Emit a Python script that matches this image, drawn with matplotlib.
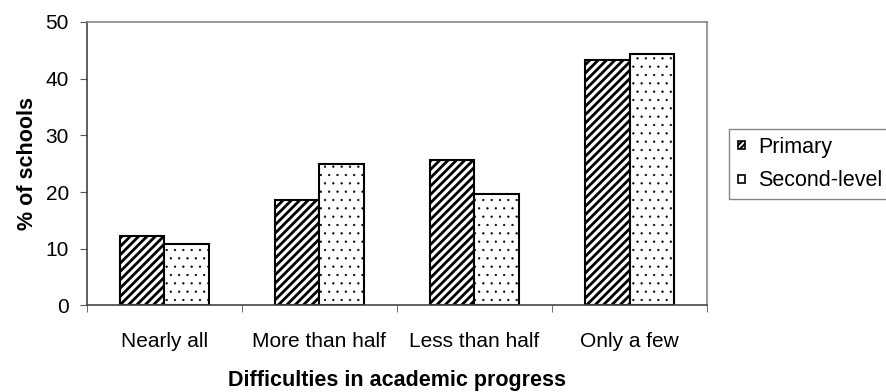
import matplotlib.pyplot as plt
import matplotlib.patches as mpatches
from matplotlib.legend_handler import HandlerPatch
import numpy as np

# categories and values
categories = ['Nearly all', 'More than half', 'Less than half', 'Only a few']
primary = [12.3, 18.6, 25.7, 43.3]
second_level = [10.9, 25.0, 19.7, 44.4]
series_names = ['Primary', 'Second-level']
y_ticks = [0, 10, 20, 30, 40, 50]

plt.rcParams['font.family'] = ['Liberation Sans', 'DejaVu Sans']
plt.rcParams['font.size'] = 15

fig = plt.figure(figsize=(8.86, 3.92), dpi=100)
ax = fig.add_axes([0.098, 0.221, 0.700, 0.723])

xPos = np.arange(len(categories))
w = 0.288

b1 = ax.bar(xPos - w / 2, primary, w, facecolor='white', edgecolor='black',
            hatch='////', linewidth=1.5, label=series_names[0])
b2 = ax.bar(xPos + w / 2, second_level, w, facecolor='white', edgecolor='black',
            hatch='..', linewidth=1.5, label=series_names[1])
for p in b1:
    p.set_hatch_linewidth(2.0)
for p in b2:
    p.set_hatch_linewidth(0.4)

ax.set_xlim(-0.5, len(categories) - 0.5)
ax.set_ylim(0, 50)
ax.set_yticks(y_ticks)

# labels at category centres, tick marks at the boundaries
ax.set_xticks(xPos)
ax.set_xticklabels(categories)
ax.set_xticks(np.arange(-0.5, len(categories)), minor=True)
ax.tick_params(axis='x', which='major', length=0, pad=19)
ax.tick_params(axis='x', which='minor', length=5, direction='out', color='#555555')
ax.tick_params(axis='y', length=5, direction='out', color='#555555', pad=8)

for s in ['top', 'right']:
    ax.spines[s].set_color('#888888')
    ax.spines[s].set_linewidth(1.2)
for s in ['left', 'bottom']:
    ax.spines[s].set_color('#444444')
    ax.spines[s].set_linewidth(1.2)

ax.set_ylabel('% of schools', fontweight='bold', fontsize=15.5, labelpad=5)
ax.set_xlabel('Difficulties in academic progress', fontweight='bold', fontsize=15.5,
              labelpad=14)


# small square legend keys (about 7 px)
def small_square(legend, orig_handle, xdescent, ydescent, width, height, fontsize):
    s = 5.4
    return mpatches.Rectangle((-xdescent + (width - s) / 2, -ydescent + (height - s) / 2), s, s)


leg = fig.legend(handles=[b1[0], b2[0]], labels=series_names,
                 loc='upper left', bbox_to_anchor=(0.823, 0.487, 0.3, 0.184),
                 mode='expand', frameon=True, fancybox=False, edgecolor='#666666',
                 handlelength=0.45, handleheight=0.7, handletextpad=0.55,
                 borderpad=0.35, borderaxespad=0, labelspacing=0.6, fontsize=15.5,
                 handler_map={mpatches.Rectangle: HandlerPatch(patch_func=small_square)})
leg.get_frame().set_linewidth(1.0)
for h in leg.legend_handles:
    h.set_linewidth(1.2)
leg.legend_handles[0].set_hatch('//////')
leg.legend_handles[0].set_hatch_linewidth(1.5)
leg.legend_handles[1].set_hatch('')

plt.savefig('out.png', dpi=100)
